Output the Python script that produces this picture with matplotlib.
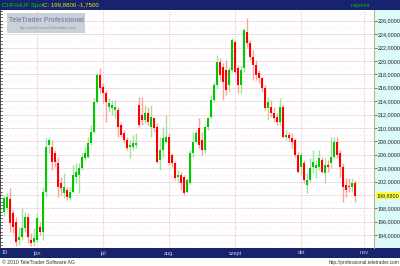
import numpy as np
import matplotlib.pyplot as plt
from matplotlib.patches import Rectangle

# daily CHF/HUF candles, mid May - late Oct 2010
opens = [197.5, 198.1, 199.4, 197.3, 196.0, 193.3, 193.7, 195.1, 196.7, 193.3,
         193.0, 193.3, 195.2, 194.5, 200.4, 207.5, 207.2, 206.3, 204.8, 201.8,
         200.3, 200.7, 199.5, 200.4, 202.7, 203.0, 204.0, 205.5, 205.7, 207.8,
         209.4, 213.9, 217.9, 216.1, 215.2, 213.1, 213.0, 212.7, 212.7, 210.4,
         209.2, 208.2, 207.2, 207.2, 207.5, 213.4, 211.9, 211.2, 212.2, 210.1,
         211.5, 210.1, 205.2, 206.7, 207.9, 208.6, 206.0, 204.8, 202.7, 203.0,
         202.7, 200.4, 201.8, 206.3, 207.9, 210.0, 208.2, 206.7, 210.1, 211.6,
         214.2, 216.4, 219.8, 219.1, 218.6, 216.4, 218.6, 222.8, 218.9, 216.4,
         218.9, 224.3, 222.7, 220.6, 219.4, 218.2, 217.5, 216.0, 213.0, 213.1,
         212.2, 211.6, 210.9, 213.1, 208.6, 208.9, 208.5, 208.2, 206.0, 204.2,
         204.8, 201.5, 202.2, 204.2, 204.0, 204.2, 205.2, 203.3, 204.5, 204.8,
         205.7, 207.9, 206.3, 204.2, 201.5, 201.3, 201.2, 201.8]
highs = [200.0, 200.3, 201.0, 197.8, 196.7, 195.2, 198.0, 197.5, 197.3, 194.3,
         195.1, 197.3, 196.0, 201.2, 208.5, 208.6, 208.2, 206.7, 205.7, 202.7,
         203.3, 201.2, 201.2, 204.5, 204.8, 204.8, 206.3, 207.2, 208.6, 210.4,
         214.5, 218.2, 218.9, 216.7, 215.7, 214.5, 214.2, 214.2, 213.1, 210.9,
         209.7, 208.6, 208.2, 208.9, 209.2, 214.6, 214.6, 213.4, 213.1, 213.4,
         211.6, 210.7, 208.6, 210.1, 211.9, 209.2, 206.3, 204.9, 203.7, 203.4,
         203.0, 202.5, 206.7, 209.4, 209.7, 211.5, 209.4, 210.4, 211.6, 214.9,
         216.9, 220.9, 220.4, 219.7, 220.1, 219.1, 223.4, 223.1, 219.4, 219.4,
         224.9, 226.4, 223.1, 221.6, 220.1, 218.6, 217.6, 216.4, 214.6, 214.2,
         213.1, 212.2, 214.5, 213.4, 209.7, 209.4, 209.2, 208.5, 206.4, 206.4,
         205.2, 203.3, 205.5, 206.7, 205.2, 206.7, 205.7, 205.5, 205.2, 208.6,
         208.6, 208.6, 206.7, 204.8, 202.5, 202.5, 202.5, 202.2]
lows = [196.9, 197.8, 194.5, 194.3, 192.4, 192.5, 193.3, 194.5, 192.8, 192.4,
        192.4, 193.0, 194.0, 193.3, 199.7, 206.3, 203.7, 204.2, 199.7, 200.0,
        199.5, 199.2, 199.2, 200.3, 201.8, 200.3, 203.7, 205.2, 205.5, 207.5,
        209.2, 213.7, 215.2, 213.7, 210.9, 212.4, 211.9, 211.5, 208.6, 208.6,
        207.8, 206.7, 205.5, 206.7, 207.0, 210.1, 210.4, 210.7, 210.4, 208.6,
        209.4, 204.8, 203.7, 205.7, 207.8, 204.5, 204.2, 202.2, 201.8, 200.7,
        200.0, 200.3, 201.6, 205.7, 207.8, 207.0, 206.0, 206.3, 209.7, 211.5,
        213.9, 216.0, 217.2, 214.2, 214.9, 215.4, 218.3, 218.2, 215.2, 215.2,
        218.3, 222.1, 220.1, 217.2, 217.2, 216.7, 215.4, 212.7, 211.2, 211.6,
        210.9, 210.4, 210.4, 208.5, 208.2, 207.9, 207.0, 205.7, 203.3, 203.0,
        201.8, 200.3, 201.9, 203.3, 202.5, 203.7, 203.3, 201.8, 203.4, 204.2,
        205.5, 205.5, 202.7, 198.9, 199.7, 200.4, 200.4, 198.9]
closes = [199.5, 199.7, 195.8, 195.2, 193.0, 193.7, 195.1, 196.7, 193.7, 192.8,
          193.6, 196.5, 194.5, 200.4, 207.2, 208.2, 204.9, 204.9, 201.2, 201.0,
          201.2, 199.7, 200.4, 203.0, 203.4, 204.0, 205.7, 206.3, 207.8, 209.4,
          213.9, 217.9, 216.0, 215.2, 213.9, 213.7, 213.4, 213.1, 210.1, 208.9,
          208.2, 207.0, 207.5, 207.8, 207.8, 210.4, 211.2, 212.2, 210.9, 211.6,
          210.0, 204.9, 206.7, 208.5, 208.6, 204.8, 204.8, 202.5, 203.0, 201.8,
          200.3, 202.2, 206.3, 207.9, 209.2, 207.5, 206.7, 210.1, 211.5, 214.2,
          216.4, 219.8, 217.9, 216.9, 215.7, 218.6, 223.1, 218.3, 216.4, 218.6,
          224.6, 222.7, 220.6, 219.4, 217.9, 217.5, 216.0, 213.0, 213.9, 212.2,
          211.5, 210.9, 213.1, 208.6, 208.9, 208.5, 207.9, 206.0, 203.4, 206.0,
          202.2, 202.2, 204.0, 204.9, 204.5, 205.5, 203.4, 204.5, 204.2, 205.7,
          207.9, 206.0, 204.2, 201.2, 200.7, 201.2, 201.8, 199.88]

month_labels = ['10', 'jún', 'júl', 'aug.', 'szept', 'okt', 'nov']
month_pos = [0, 11, 33, 55, 77, 99, 120]
price_ticks = [194, 196, 198, 202, 204, 206, 208, 210, 212, 214, 216, 218,
               220, 222, 224, 226]
last_close = 199.88
change = -1.75

plt.rcParams['font.family'] = ['Liberation Sans', 'DejaVu Sans']

navy = '#18236e'
up_c, dn_c = '#00c800', '#ff0000'
up_w, dn_w = '#9fe39f', '#ffa0a0'

def hu(v):
    return f'{v:.4f}'.replace('.', ',')

fig = plt.figure(figsize=(4, 2.66), dpi=100)
fig.patch.set_facecolor('white')

# right price panel background
fig.patches.append(Rectangle((374 / 400, 18 / 266), 26 / 400, 238 / 266,
                             transform=fig.transFigure, facecolor='#dcfafa',
                             edgecolor='none', zorder=-5))

ax = fig.add_axes([0, 18 / 266, 374 / 400, 238 / 266])
ax.set_facecolor('white')

o = np.array(opens); h = np.array(highs); l = np.array(lows); c = np.array(closes)
x = np.arange(len(o))
up = c >= o

# grid
for v in np.arange(192, 228, 1):
    if v % 2 == 0:
        ax.axhline(v, color='#eed8dc', lw=0.6, zorder=0)
    else:
        ax.axhline(v, color='#d8d0d8', lw=0.6, ls=(0, (1, 5)), zorder=0)
for p in month_pos[1:]:
    ax.axvline(p, color='#f0c8d0', lw=0.8, ls=(0, (1, 1)), zorder=0)

# candles
ax.vlines(x[up], l[up], h[up], color=up_w, lw=1, zorder=2)
ax.vlines(x[~up], l[~up], h[~up], color=dn_w, lw=1, zorder=2)
body = np.maximum(np.abs(c - o), 0.12)
ax.bar(x[up], body[up], bottom=np.minimum(o, c)[up], width=0.7, color=up_c, zorder=3)
ax.bar(x[~up], body[~up], bottom=np.minimum(o, c)[~up], width=0.7, color=dn_c, zorder=3)

ax.set_xlim(-4 / 3, 370 / 3)
ax.set_ylim(192.08, 227.6)
ax.set_xticks([])

ax.yaxis.tick_right()
ax.set_yticks(price_ticks)
ax.set_yticklabels([hu(v) for v in price_ticks], fontsize=3.9)
ax.tick_params(axis='y', length=2, width=0.6, pad=0.6, colors='#606030', labelcolor='#202020')
for s in ['top', 'bottom']:
    ax.spines[s].set_visible(False)
ax.spines['left'].set_color('#303030')
ax.spines['left'].set_linewidth(1.2)
ax.spines['right'].set_color('#b8b880')
ax.spines['right'].set_linestyle((0, (1, 1)))
ax.spines['right'].set_linewidth(0.8)

# left ruler ticks
for v in np.arange(192.5, 227.6, 0.5):
    ax.plot([-4 / 3, -4 / 3 + 0.6], [v, v], color='#303030', lw=0.5, clip_on=False, zorder=4)

# last price tag
ax.text(1.007, last_close, hu(last_close), transform=ax.get_yaxis_transform(),
        fontsize=3.9, va='center', ha='left', color='#202020',
        bbox=dict(boxstyle='square,pad=0.15', fc='#ffff40', ec='none'), clip_on=False, zorder=5)

# header bar
fig.patches.append(Rectangle((0, 256 / 266), 1, 10 / 266, transform=fig.transFigure,
                             facecolor=navy, edgecolor='none', zorder=-4))
fig.text(2 / 400, 261 / 266, 'CHF/HUF Spot', color='#00d000', fontsize=4.4,
         va='center', ha='left')
fig.text(43 / 400, 261 / 266, f'C: {hu(last_close)} {hu(change)}',
         color='#e8e800', fontsize=4.4, va='center', ha='left')
fig.text(360 / 400, 261 / 266, 'naponta', color='#00c000', fontsize=3.8,
         va='center', ha='center')

# bottom bar with month labels
fig.patches.append(Rectangle((0, 8 / 266), 1, 10 / 266, transform=fig.transFigure,
                             facecolor=navy, edgecolor='none', zorder=-4))
for lab, p in zip(month_labels, month_pos):
    px = 4 + 3 * p if p > 0 else 5
    fig.text(px / 400, 13 / 266, lab, color='#c8cce0', fontsize=4.0, va='center', ha='center')

# footer
fig.text(2 / 400, 3.5 / 266, '© 2010 TeleTrader Software AG', color='#303030',
         fontsize=3.7, va='center', ha='left')
fig.text(399 / 400, 3.5 / 266, 'http://professional.teletrader.com', color='#303030',
         fontsize=3.4, va='center', ha='right')

# watermark box
fig.patches.append(Rectangle((7 / 400, 1 - 33 / 266), 78 / 400, 20 / 266,
                             transform=fig.transFigure, facecolor='#c4c8d0',
                             edgecolor='none', alpha=0.85, zorder=5))
fig.text(46 / 400, 1 - 20 / 266, 'TeleTrader Professional', color='#7d8cad',
         fontsize=4.8, fontweight='bold', va='center', ha='center', zorder=6)
fig.text(48 / 400, 1 - 28 / 266, 'http://professional.teletrader.com/', color='#8090b0',
         fontsize=2.8, va='center', ha='center', zorder=6)

fig.savefig('out.png', dpi=100)
